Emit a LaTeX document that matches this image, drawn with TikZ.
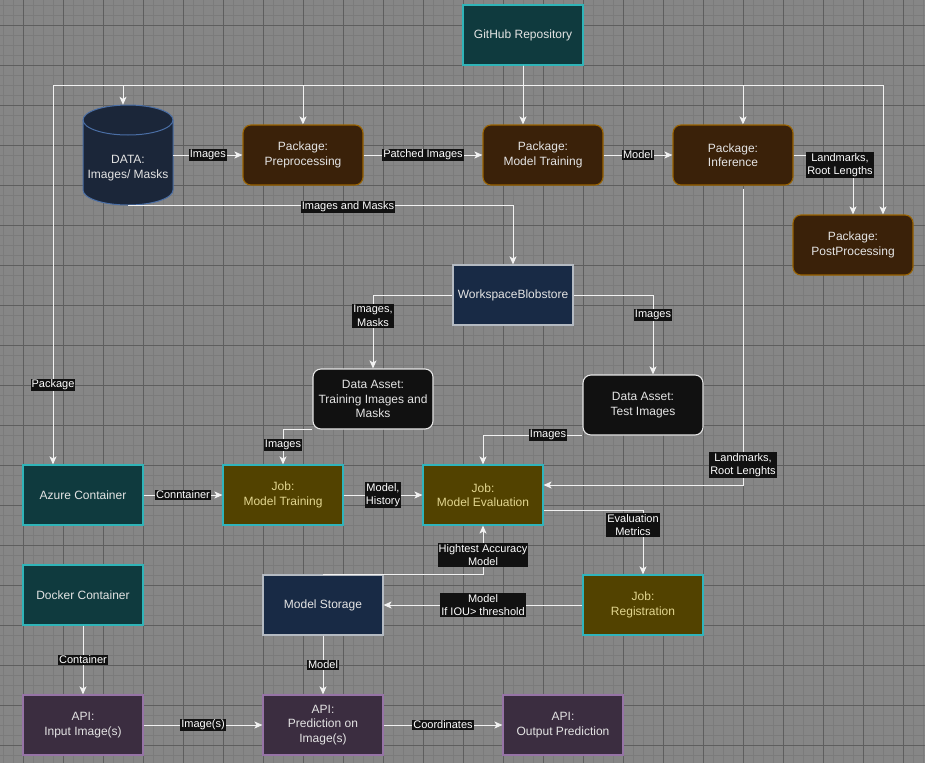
\documentclass[tikz,border=0pt]{standalone}
\usepackage{fontspec}
\setmainfont{Liberation Sans}
\usetikzlibrary{arrows.meta,positioning,calc}
\definecolor{gridbg}{HTML}{868686}
\definecolor{gridminor}{HTML}{7B7B7B}
\definecolor{gridmajor}{HTML}{5E5E5E}
\definecolor{boxtxt}{HTML}{E4E4E4}
\definecolor{tealfill}{HTML}{0F3A3E}
\definecolor{tealline}{HTML}{2FB4B8}
\definecolor{pkgfill}{HTML}{3A2109}
\definecolor{pkgline}{HTML}{9A6300}
\definecolor{navyfill}{HTML}{182A45}
\definecolor{navyline}{HTML}{B4BAC2}
\definecolor{datafill}{HTML}{1B2639}
\definecolor{dataline}{HTML}{4A6EA5}
\definecolor{assetfill}{HTML}{111111}
\definecolor{assetline}{HTML}{E6E6E6}
\definecolor{jobfill}{HTML}{524200}
\definecolor{jobline}{HTML}{2FB4BC}
\definecolor{jobtxt}{HTML}{E2D690}
\definecolor{apifill}{HTML}{3B2D40}
\definecolor{apiline}{HTML}{9673A6}
\definecolor{wire}{HTML}{F2F2F2}
\definecolor{lblfill}{HTML}{111111}

\begin{document}
\begin{tikzpicture}[
  x=1pt,y=-1pt,
  font=\fontsize{12}{14.5}\selectfont,
  box/.style={draw,line width=1.1pt,minimum width=120pt,minimum height=60pt,align=center,inner sep=2pt,text=boxtxt},
  teal/.style={box,fill=tealfill,draw=tealline},
  pkg/.style={box,rounded corners=8pt,fill=pkgfill,draw=pkgline},
  navy/.style={box,fill=navyfill,draw=navyline},
  asset/.style={box,rounded corners=8pt,fill=assetfill,draw=assetline},
  job/.style={box,fill=jobfill,draw=jobline,text=jobtxt},
  api/.style={box,fill=apifill,draw=apiline},
  ar/.style={draw=wire,line width=1pt,-{Stealth[length=8pt,width=7pt,inset=2pt]}},
  lbl/.style={fill=lblfill,text=white,font=\fontsize{11}{13.5}\selectfont,inner sep=1pt,align=center}
]
\useasboundingbox (0,0) rectangle (925,763);

% ---------------- grid background
\fill[gridbg] (0,0) rectangle (925,763);
\foreach \x in {3,13,...,923} \draw[gridminor,line width=0.6pt] (\x,0) -- (\x,763);
\foreach \y in {5,15,...,755} \draw[gridminor,line width=0.6pt] (0,\y) -- (925,\y);
\foreach \x in {23,63,...,903} \draw[gridmajor,line width=0.8pt] (\x,0) -- (\x,763);
\foreach \y in {25,65,...,745} \draw[gridmajor,line width=0.8pt] (0,\y) -- (925,\y);

% ---------------- repository and packages
\node[teal] (gh) at (523,35) {GitHub Repository};
\node[pkg] (pre) at (303,155) {Package:\\Preprocessing};
\node[pkg] (pmt) at (543,155) {Package:\\Model Training};
\node[pkg] (inf) at (733,155) {Package:\\Inference};
\node[pkg] (post) at (853,245) {Package:\\PostProcessing};

% data cylinder
\node[minimum width=90pt,minimum height=100pt,inner sep=0pt] (data) at (128,155) {};
\fill[datafill] (83,120) -- (83,190) arc[start angle=180,end angle=360,x radius=45pt,y radius=15pt]
  -- (173,120) arc[start angle=0,end angle=180,x radius=45pt,y radius=15pt] -- cycle;
\draw[dataline,line width=1pt] (83,120) -- (83,190) arc[start angle=180,end angle=360,x radius=45pt,y radius=15pt]
  -- (173,120) arc[start angle=0,end angle=180,x radius=45pt,y radius=15pt] -- cycle;
\draw[dataline,line width=1pt] (83,120) arc[start angle=180,end angle=360,x radius=45pt,y radius=15pt];
\node[text=boxtxt,align=center] (datatxt) at (128,168) {DATA:\\Images/ Masks};

% ---------------- workspace and assets
\node[navy] (blob) at (513,295) {WorkspaceBlobstore};
\node[asset] (datr) at (373,399) {Data Asset:\\Training Images and\\Masks};
\node[asset] (dats) at (643,405) {Data Asset:\\Test Images};

% ---------------- jobs and containers
\node[teal] (azure) at (83,495) {Azure Container};
\node[job] (jobtr) at (283,495) {Job:\\Model Training};
\node[job] (jobev) at (483,495) {Job:\\Model Evaluation};
\node[job] (reg) at (643,605) {Job:\\Registration};
\node[navy] (ms) at (323,605) {Model Storage};
\node[teal] (docker) at (83,595) {Docker Container};

% ---------------- api
\node[api] (apiin) at (83,725) {API:\\Input Image(s)};
\node[api] (apipr) at (323,725) {API:\\Prediction on\\Image(s)};
\node[api] (apiout) at (563,725) {API:\\Output Prediction};

% ---------------- arrows from the repository
\coordinate (trunk) at (523,85);
\draw[ar] (gh.south) -- (gh.south |- pmt.north);
\draw[ar] (gh.south) -- (trunk) -| ([xshift=-5pt]data.north);
\draw[ar] (gh.south) -- (trunk) -| (pre.north);
\draw[ar] (gh.south) -- (trunk) -| ([xshift=10pt]inf.north);
\draw[ar] (gh.south) -- (trunk) -| ([xshift=30pt]post.north);
\draw[ar] (gh.south) -- (trunk) -| ([xshift=-30pt]azure.north) node[lbl] at (53,385) {Package};

% ---------------- straight arrows
\foreach \a/\b/\t in {data/pre/Images,pre/pmt/Patched Images,pmt/inf/Model,azure/jobtr/Conntainer,
  jobtr/jobev/{Model,\\History},reg/ms/{Model\\If IOU> threshold},docker/apiin/Container,
  ms/apipr/Model,apiin/apipr/Image(s),apipr/apiout/Coordinates}
  \draw[ar] (\a) -- (\b) node[lbl,midway] {\t};

% ---------------- bent arrows
\draw[ar] (inf.east) -| (post.north) node[lbl] at (840,165) {Landmarks,\\Root Lengths};
\draw[ar] (data.south) -| (blob.north) node[lbl] at (348,207) {Images and Masks};
\draw[ar] (blob.west) -| (datr.north) node[lbl] at (373,316) {Images,\\Masks};
\draw[ar] (blob.east) -| ([xshift=10pt]dats.north) node[lbl] at (653,315) {Images};
\draw[ar] (datr.south west) -| (jobtr.north) node[lbl] at (283,445) {Images};
\draw[ar] (dats.south west) -| (jobev.north) node[lbl] at (548,435) {Images};
\draw[ar] ([xshift=10pt,yshift=-3pt]inf.south) |- ([yshift=10pt]jobev.east) node[lbl] at (743,465) {Landmarks,\\Root Lenghts};
\draw[ar] ([yshift=-15pt]jobev.east) -| (reg.north) node[lbl] at (633,525) {Evaluation\\Metrics};
\draw[ar] (ms.north) -| (jobev.south) node[lbl] at (483,555) {Hightest Accuracy\\Model};
\end{tikzpicture}
\end{document}
